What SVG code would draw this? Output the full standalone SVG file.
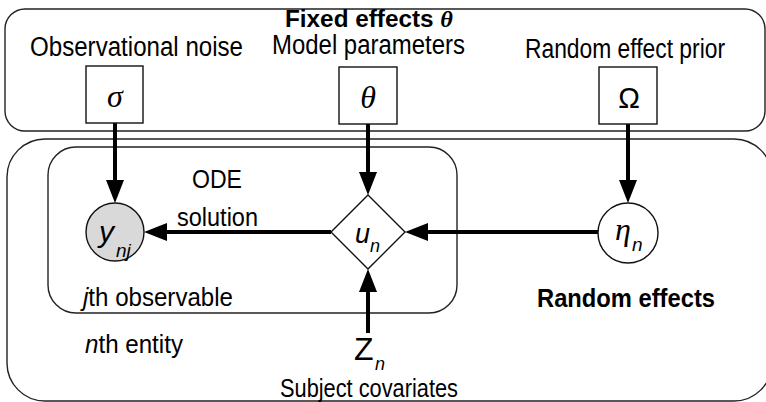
<svg xmlns="http://www.w3.org/2000/svg" width="766" height="402" viewBox="0 0 766 402">
<style>
.plate{fill:none;stroke:#222;stroke-width:1.4}
.node{fill:#fff;stroke:#111;stroke-width:1.4}
.obs{fill:#d9d9d9;stroke:#111;stroke-width:1.4}
.t{font-family:"Liberation Sans",Arial,sans-serif;font-size:26px;fill:#000}
.b{font-weight:bold}
.m{font-family:"Liberation Serif","Times New Roman",serif;font-style:italic;fill:#000}
.i{font-style:italic}
.edge{stroke:#000;stroke-width:4;fill:none;marker-end:url(#ah)}
</style>
<defs>
<marker id="ah" markerUnits="userSpaceOnUse" markerWidth="24" markerHeight="20" refX="0" refY="9" orient="auto" overflow="visible">
<path d="M0,0 L23,9 L0,18 z" fill="#000"/>
</marker>
</defs>
<g id="plates">
<rect id="fixed-plate" class="plate" x="5" y="9" width="760" height="122" rx="20"/>
<rect id="entity-plate" class="plate" x="7" y="139" width="765" height="262" rx="38"/>
<rect id="observable-plate" class="plate" x="48" y="147" width="409" height="166" rx="28"/>
</g>
<g id="labels">
<text class="t b" x="285" y="27" style="font-size:23px" textLength="168" lengthAdjust="spacingAndGlyphs">Fixed effects <tspan font-family="'Liberation Serif',serif" font-style="italic">θ</tspan></text>
<text class="t" x="30" y="56" style="font-size:27px" textLength="213" lengthAdjust="spacingAndGlyphs">Observational noise</text>
<text class="t" x="272" y="54" style="font-size:27px" textLength="193" lengthAdjust="spacingAndGlyphs">Model parameters</text>
<text class="t" x="525" y="58" style="font-size:27px" textLength="200" lengthAdjust="spacingAndGlyphs">Random effect prior</text>
<text class="t" x="192" y="188" textLength="50" lengthAdjust="spacingAndGlyphs">ODE</text>
<text class="t" x="177" y="226" textLength="81" lengthAdjust="spacingAndGlyphs">solution</text>
<text class="t" x="83" y="306" textLength="150" lengthAdjust="spacingAndGlyphs"><tspan class="i">j</tspan>th observable</text>
<text class="t" x="85" y="353" textLength="98" lengthAdjust="spacingAndGlyphs"><tspan class="i">n</tspan>th entity</text>
<text class="t b" x="537" y="307" style="font-size:25px" textLength="178" lengthAdjust="spacingAndGlyphs">Random effects</text>
<text class="t" x="280" y="397" textLength="178" lengthAdjust="spacingAndGlyphs">Subject covariates</text>
</g>
<g id="connectors">
<line class="edge" x1="115" y1="123" x2="115" y2="180"/>
<line class="edge" x1="368" y1="124" x2="368" y2="172"/>
<line class="edge" x1="628" y1="124" x2="628" y2="180"/>
<line class="edge" x1="599" y1="232" x2="428" y2="232"/>
<line class="edge" x1="331" y1="232" x2="167" y2="232"/>
<line class="edge" x1="368" y1="333" x2="368" y2="292"/>
</g>
<g id="node-sigma">
<rect class="node" x="86" y="66" width="57" height="57"/>
<text class="m" x="115" y="107" font-size="32" text-anchor="middle">σ</text>
</g>
<g id="node-theta">
<rect class="node" x="339" y="67" width="58" height="57"/>
<text class="m" x="368" y="108" font-size="32" text-anchor="middle">θ</text>
</g>
<g id="node-omega">
<rect class="node" x="599" y="67" width="58" height="57"/>
<text class="t" x="629" y="108" text-anchor="middle" style="font-size:29px">Ω</text>
</g>
<g id="node-y">
<circle class="obs" cx="115" cy="232" r="29"/>
<text class="t i" x="99" y="242" style="font-size:30px">y</text>
<text class="t i" x="116" y="257" style="font-size:19px">nj</text>
</g>
<g id="node-u">
<polygon class="node" points="368,195 405,232 368,269 331,232"/>
<text class="t i" x="355" y="243" style="font-size:27px">u</text>
<text class="t i" x="370" y="252" style="font-size:18px">n</text>
</g>
<g id="node-eta">
<circle class="node" cx="628" cy="233" r="30"/>
<text class="m" x="615" y="240" font-size="32">η</text>
<text class="t i" x="632" y="251" style="font-size:19px">n</text>
</g>
<g id="node-z">
<text class="t" x="354" y="360" style="font-size:32px">Z</text>
<text class="t i" x="375" y="370" style="font-size:18px">n</text>
</g>
</svg>
